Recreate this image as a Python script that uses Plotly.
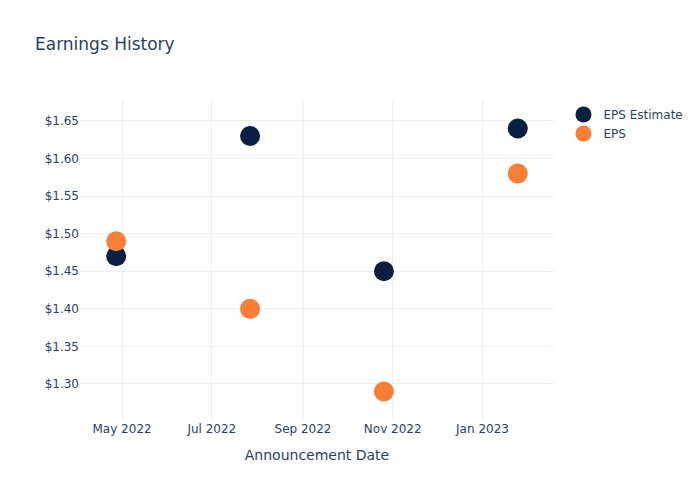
import plotly.graph_objects as go

dates = ["2022-04-27", "2022-07-27", "2022-10-26", "2023-01-25"]
eps_estimate = [1.47, 1.63, 1.45, 1.64]
eps_actual = [1.49, 1.40, 1.29, 1.58]

fig = go.Figure()
fig.add_trace(go.Scatter(x=dates, y=eps_estimate, mode="markers", name="EPS Estimate",
                         marker=dict(size=20, color="#0b1f41")))
fig.add_trace(go.Scatter(x=dates, y=eps_actual, mode="markers", name="EPS",
                         marker=dict(size=20, color="#f67e35")))
fig.update_layout(
    template="plotly_white",
    width=700, height=500,
    font=dict(family="DejaVu Sans"),
    title=dict(text="Earnings History"),
    xaxis=dict(title=dict(text="Announcement Date")),
    yaxis=dict(tickprefix="$", tickformat=".2f"),
)
fig.write_html("out.html")
